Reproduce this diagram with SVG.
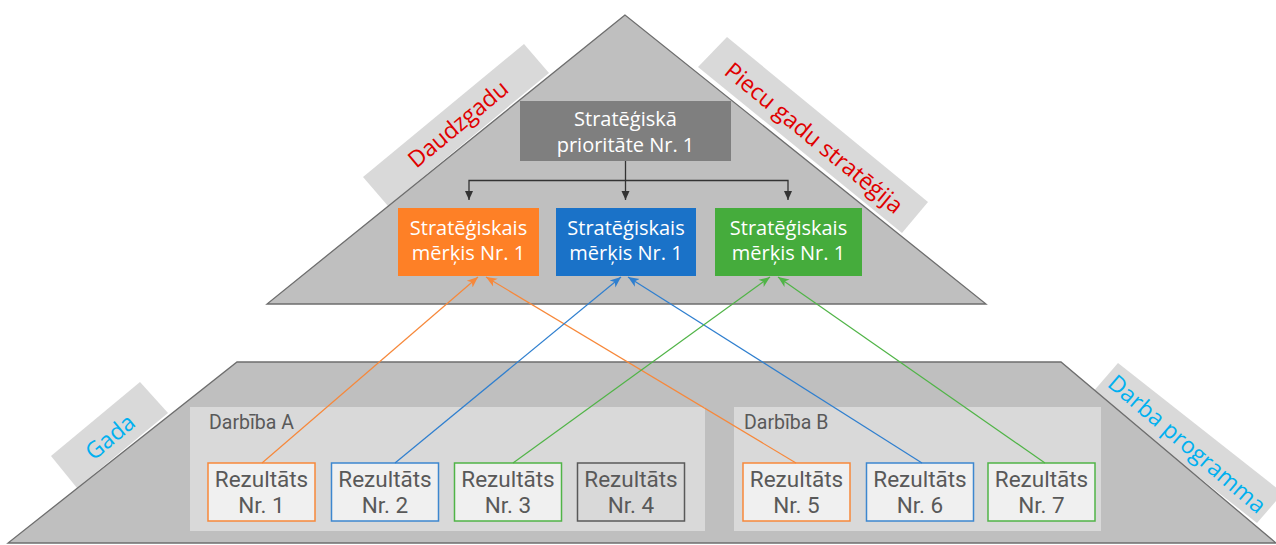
<svg xmlns="http://www.w3.org/2000/svg" width="1276" height="545" viewBox="0 0 1276 545">
<style>
.tier{fill:#bfbfbf;stroke:#6e6e6e;stroke-width:1.3}
.banner{fill:#d9d9d9}
.red{fill:#e00000;font-family:"Open Sans","Liberation Sans",sans-serif;font-size:23px;text-anchor:middle}
.cyan{fill:#00b0f0;font-family:"Open Sans","Liberation Sans",sans-serif;font-size:23px;text-anchor:middle}
.wt{fill:#ffffff;font-family:"Open Sans","Liberation Sans",sans-serif;font-size:20px;text-anchor:middle}
.grp{fill:#d9d9d9}
.glab{fill:#595959;font-family:Roboto,"Liberation Sans",sans-serif;font-size:19.5px}
.res{fill:#f0f0f0;stroke-width:1.5}
.rt{fill:#595959;font-family:Roboto,"Liberation Sans",sans-serif;font-size:22.5px;text-anchor:middle}
.blk{fill:none;stroke:#333333;stroke-width:1.3}
.co{fill:none;stroke-width:1.2}
</style>
<defs>
<marker id="ak" markerUnits="userSpaceOnUse" markerWidth="10" markerHeight="10" refX="9" refY="5" orient="auto"><path d="M0,1 L9,5 L0,9 z" fill="#333333"/></marker>
<marker id="ao" markerUnits="userSpaceOnUse" markerWidth="12" markerHeight="12" refX="11" refY="6" orient="auto"><path d="M0,1.5 L11,6 L0,10.5 L3,6 z" fill="#f7883a"/></marker>
<marker id="ab" markerUnits="userSpaceOnUse" markerWidth="12" markerHeight="12" refX="11" refY="6" orient="auto"><path d="M0,1.5 L11,6 L0,10.5 L3,6 z" fill="#2f7fcf"/></marker>
<marker id="ag" markerUnits="userSpaceOnUse" markerWidth="12" markerHeight="12" refX="11" refY="6" orient="auto"><path d="M0,1.5 L11,6 L0,10.5 L3,6 z" fill="#50b447"/></marker>
</defs>

<g id="banners">
<polygon class="banner" points="363,177 524,44 549,73 388,206"/>
<polygon class="banner" points="698,67 727,37 928,202 902,233"/>
<polygon class="banner" points="51,456 140,382 168,413 77,488"/>
<polygon class="banner" points="1092,393 1118,363 1283,493 1257,523"/>
</g>

<g id="tiers">
<polygon id="top-tier" class="tier" points="625,15 267,304 986,304"/>
<polygon id="bottom-tier" class="tier" points="237,362 1061,362 1276,543 8,543"/>
</g>

<g id="banner-labels">
<text class="red" transform="translate(458,124) rotate(-39.6)" y="8">Daudzgadu</text>
<text class="red" transform="translate(814,138) rotate(39.4)" y="8">Piecu gadu stratēģija</text>
<text class="cyan" transform="translate(110,437) rotate(-39.7)" y="8">Gada</text>
<text class="cyan" transform="translate(1187,444) rotate(40.5)" y="8">Darba programma</text>
</g>

<g id="priority">
<rect x="520" y="101" width="211" height="60" fill="#7f7f7f"/>
<text class="wt" x="625.5" y="126" font-size="20.5">Stratēģiskā</text>
<text class="wt" x="625.5" y="152" font-size="20.5">prioritāte Nr. 1</text>
</g>

<g id="goal-orange">
<rect x="398" y="208" width="141" height="68" fill="#fe8026"/>
<text class="wt" x="468.5" y="235">Stratēģiskais</text>
<text class="wt" x="468.5" y="260">mērķis Nr. 1</text>
</g>
<g id="goal-blue">
<rect x="556" y="208" width="140" height="68" fill="#1a72c8"/>
<text class="wt" x="626" y="235">Stratēģiskais</text>
<text class="wt" x="626" y="260">mērķis Nr. 1</text>
</g>
<g id="goal-green">
<rect x="715" y="208" width="147" height="68" fill="#45ac3c"/>
<text class="wt" x="788.5" y="235">Stratēģiskais</text>
<text class="wt" x="788.5" y="260">mērķis Nr. 1</text>
</g>

<g id="darbiba-a">
<rect class="grp" x="190" y="407" width="515" height="124"/>
<text class="glab" x="209" y="429">Darbība A</text>
</g>
<g id="darbiba-b">
<rect class="grp" x="734" y="407" width="367" height="124"/>
<text class="glab" x="744" y="429">Darbība B</text>
</g>

<g id="r1"><rect class="res" x="208" y="463" width="107" height="58" stroke="#f7883a"/><text class="rt" x="261.5" y="487">Rezultāts</text><text class="rt" x="261.5" y="513">Nr. 1</text></g>
<g id="r2"><rect class="res" x="331.5" y="463" width="107" height="58" stroke="#3d87cf"/><text class="rt" x="385" y="487">Rezultāts</text><text class="rt" x="385" y="513">Nr. 2</text></g>
<g id="r3"><rect class="res" x="454.5" y="463" width="107" height="58" stroke="#50b447"/><text class="rt" x="508" y="487">Rezultāts</text><text class="rt" x="508" y="513">Nr. 3</text></g>
<g id="r4"><rect class="res" x="577.5" y="463" width="107" height="58" stroke="#595959" style="fill:#d9d9d9"/><text class="rt" x="631" y="487">Rezultāts</text><text class="rt" x="631" y="513">Nr. 4</text></g>
<g id="r5"><rect class="res" x="743" y="463" width="107" height="58" stroke="#f7883a"/><text class="rt" x="796.5" y="487">Rezultāts</text><text class="rt" x="796.5" y="513">Nr. 5</text></g>
<g id="r6"><rect class="res" x="866.5" y="463" width="107" height="58" stroke="#3d87cf"/><text class="rt" x="920" y="487">Rezultāts</text><text class="rt" x="920" y="513">Nr. 6</text></g>
<g id="r7"><rect class="res" x="988" y="463" width="107" height="58" stroke="#50b447"/><text class="rt" x="1041.5" y="487">Rezultāts</text><text class="rt" x="1041.5" y="513">Nr. 7</text></g>

<g id="connectors">
<path class="blk" d="M625.5,161 V200" marker-end="url(#ak)"/>
<path class="blk" d="M625.5,180.5 H469 V200" marker-end="url(#ak)"/>
<path class="blk" d="M625.5,180.5 H788 V200" marker-end="url(#ak)"/>
<path class="co" stroke="#f7883a" d="M262,463 L478,277" marker-end="url(#ao)"/>
<path class="co" stroke="#f7883a" d="M796,463 L486,277" marker-end="url(#ao)"/>
<path class="co" stroke="#2f7fcf" d="M395,463 L621,277" marker-end="url(#ab)"/>
<path class="co" stroke="#2f7fcf" d="M922,463 L628,277" marker-end="url(#ab)"/>
<path class="co" stroke="#50b447" d="M513,463 L770,277" marker-end="url(#ag)"/>
<path class="co" stroke="#50b447" d="M1045,463 L778,277" marker-end="url(#ag)"/>
</g>
</svg>
